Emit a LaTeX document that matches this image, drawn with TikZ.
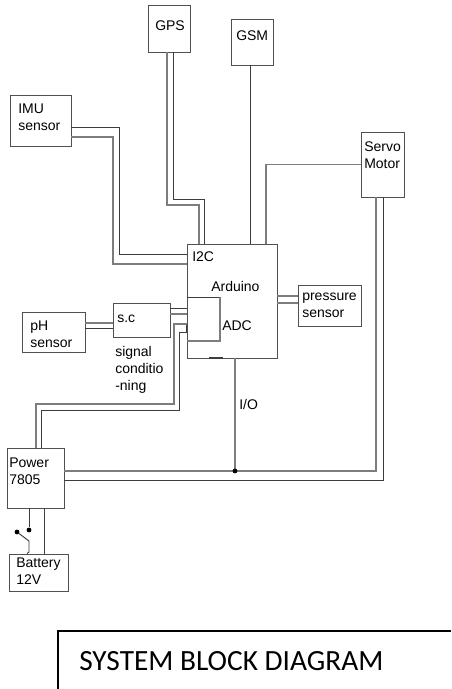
\documentclass[tikz,border=0pt]{standalone}
\usepackage{fontspec}
\setmainfont{Liberation Sans}
\newfontfamily\titlefont{Carlito}
\usepackage{xcolor}
\usetikzlibrary{calc}
\definecolor{wiredark}{RGB}{60,60,60}
\definecolor{wiregray}{RGB}{125,125,125}
\definecolor{boxedge}{RGB}{80,80,80}

\begin{document}
\begin{tikzpicture}[x=0.75pt,y=-0.75pt,
  block/.style={draw=boxedge,line width=0.7pt,inner sep=0pt},
  txt/.style={anchor=west,inner sep=0pt,align=left,font=\fontsize{10.5}{12.5}\selectfont},
  dk/.style={draw=wiredark,line width=0.7pt},
  gr/.style={draw=wiregray,line width=0.8pt},
  dot/.style={circle,fill=black,inner sep=0pt,minimum size=3.6pt}]
\useasboundingbox (0,0) rectangle (451,689);
% blocks
\node[block,minimum width=31.5pt,minimum height=35.25pt] (gps) at (169,28.5) {};
\node[block,minimum width=31.5pt,minimum height=34.5pt] (gsm) at (252,42) {};
\node[block,minimum width=45.75pt,minimum height=38.25pt] (imu) at (40.5,120.5) {};
\node[block,minimum width=32.25pt,minimum height=48.75pt] (servo) at (382.5,164.5) {};
\node[block,minimum width=67.5pt,minimum height=85.5pt] (ard) at (232,301) {};
\node[block,minimum width=47.25pt,minimum height=30.75pt] (press) at (329.5,305.5) {};
\node[block,minimum width=42.75pt,minimum height=25.5pt] (sc) at (141.5,320) {};
\node[block,minimum width=47.25pt,minimum height=30pt] (ph) at (53.5,332) {};
\node[block,minimum width=42.75pt,minimum height=45pt] (pow) at (35.5,478) {};
\node[block,minimum width=44.25pt,minimum height=27.75pt] (bat) at (38.5,572.5) {};
% texts
\node[txt] (gpstxt) at (155,26) {GPS};
\node[txt] (gsmtxt) at (236,36) {GSM};
\node[txt] (imutxt) at (18,117) {IMU\\sensor};
\node[txt] (servotxt) at (364,155.5) {Servo\\Motor};
\node[txt] (presstxt) at (302,305.5) {pressure\\sensor};
\node[txt] (sctxt) at (117,319) {s.c};
\node[txt] (phtxt) at (30,334) {pH\\sensor};
\node[txt] (battxt) at (16,571) {Battery\\12V};
\node[txt] (powtxt) at (9,471) {Power\\7805};
\node[txt] (i2c) at (192,257) {I2C};
\node[txt] (ardtxt) at (211,286) {Arduino};
\node[txt] (adc) at (222,326) {ADC};
\node[txt,font=\fontsize{10.5}{13}\selectfont] (signal) at (115,370) {signal\\conditio\\-ning};
\node[txt] (io) at (239,404) {I/O};
% adc box inside arduino
\draw[dk] (ard.west |- 0,297) -- (220,297);
\draw[gr] (220,297) -- (220,341) -- (ard.west |- 0,341);
\draw[dk,line width=1.2pt] (ard.west |- 0,324) -- (ard.west |- 0,332);
\draw[dk,line width=1.2pt] (209,358) -- (223,358);
% imu
\draw[dk] (imu.east |- 0,127.5) -- (119,127.5) -- (119,254.5) -- (ard.west |- 0,254.5);
\draw[gr] (imu.east |- 0,137) -- (113,137) -- (113,264) -- (ard.west |- 0,264);
% gps
\draw[gr] (gps.south -| 167,0) -- (167,205) -- (199,205) -- (ard.north -| 199,0);
\draw[dk] (gps.south -| 173,0) -- (173,199) -- (204,199) -- (ard.north -| 204,0);
% gsm and servo to arduino
\draw[dk] (gsm.south -| 250,0) -- (ard.north -| 250,0);
\draw[gr] (servo.west) -- (266,164.5) -- (ard.north -| 266,0);
% pressure
\draw[gr] (ard.east |- 0,296) -- (press.west |- 0,296);
\draw[gr] (ard.east |- 0,303) -- (press.west |- 0,303);
% s.c
\draw[dk] (sc.east |- 0,308.5) -- (ard.west |- 0,308.5);
\draw[gr] (sc.east |- 0,314) -- (ard.west |- 0,314);
\draw[gr] (ph.east |- 0,323) -- (sc.west |- 0,323);
\draw[dk] (ph.east |- 0,328) -- (sc.west |- 0,328);
% power up to arduino
\draw[gr] (pow.north -| 36,0) -- (36,404) -- (174,404) -- (174,324) -- (ard.west |- 0,324);
\draw[dk] (pow.north -| 41,0) -- (41,410) -- (179,410) -- (179,332) -- (ard.west |- 0,332);
% power to servo
\coordinate (jn) at (235,471);
\draw[gr] (pow.east |- jn) -- (jn) -- (376,471) -- (servo.south -| 376,0);
\draw[dk] (pow.east |- 0,480) -- (383,480) -- (servo.south -| 383,0);
\draw[gr] (ard.south -| jn) -- (jn);
\node[dot] (jndot) at (jn) {};
% battery and switch
\node[dot] (swa) at (29,530) {};
\node[dot] (swb) at (17,532) {};
\draw[dk] (pow.south -| swa) -- (swa);
\draw[dk] (swb) -- (29,541) -- (29,552) -- (bat.north -| 27,0);
\draw[dk] (pow.south -| 44,0) -- (bat.north -| 44,0);
% title
\draw[black,line width=0.9pt] (58,689) -- (58,631) -- (451,631);
\node[anchor=west,inner sep=0pt,font=\titlefont\fontsize{22}{26}\selectfont] (title) at (79,661) {SYSTEM BLOCK DIAGRAM};
\end{tikzpicture}
\end{document}
